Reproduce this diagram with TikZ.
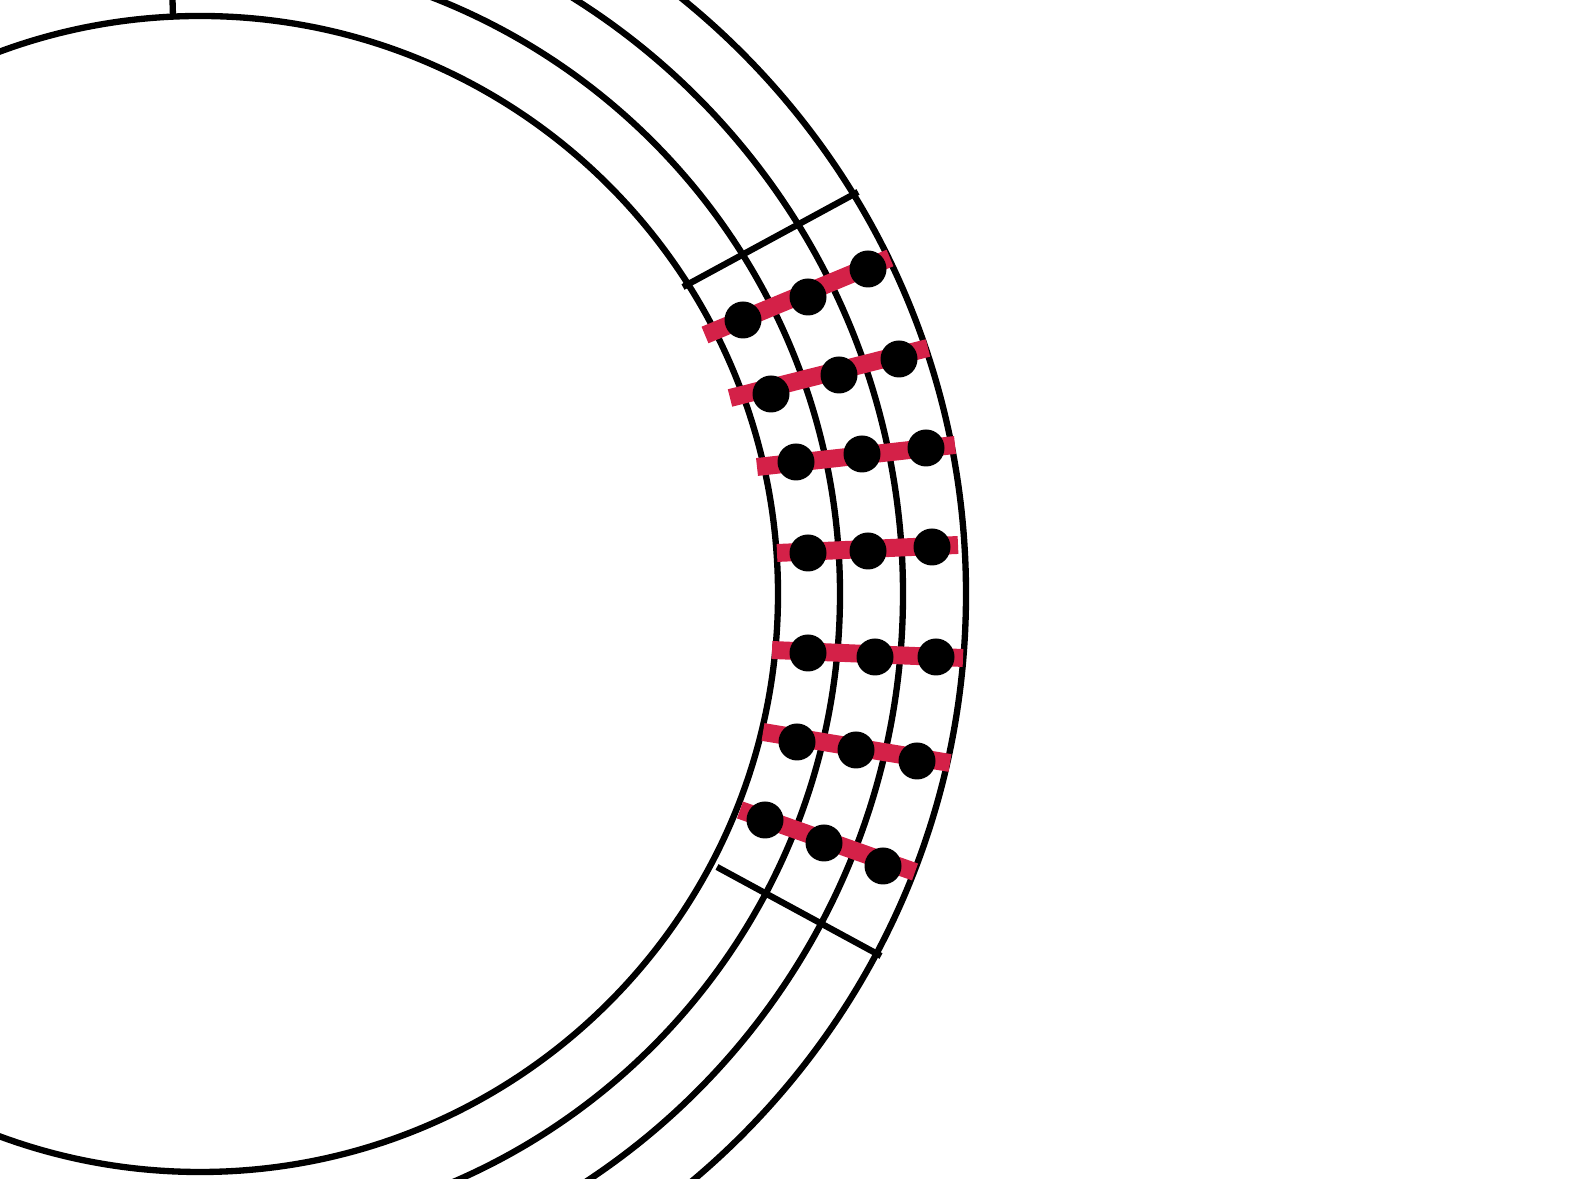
\documentclass[tikz,border=0pt]{standalone}
\usepackage{tikz}
\usepackage{xcolor}
\definecolor{rungred}{RGB}{212,33,72}

\begin{document}
\begin{tikzpicture}
  \tikzset{ring/.style={line width=1.8pt},
    rung/.style={line width=5.1pt,rungred},
    bead/.style={circle,fill=black,inner sep=0pt,minimum size=3.7mm}}
  \useasboundingbox (-2,-5.85) rectangle (13.88,5.94);
  \clip (-2,-5.85) rectangle (13.88,5.94);
  % rings
  \draw[ring] (0,0) circle (5.78);
  \draw[ring] (0,0) circle (6.40);
  \draw[ring] (0,0) circle (7.03);
  \draw[ring] (0,0) circle (7.66);
  \draw[ring] (-0.27,5.78)--(-0.28,6.1);
  % segment borders
  \coordinate (top in) at (4.83,3.07);
  \coordinate (top out) at (6.58,4.02);
  \coordinate (bot in) at (5.17,-2.73);
  \coordinate (bot out) at (6.81,-3.62);
  \draw[ring] (top in)--(top out);
  \draw[ring] (bot in)--(bot out);
  % rungs
  \coordinate (l1) at (5.05,2.59); \coordinate (r1) at (6.90,3.36);
  \coordinate (l2) at (5.30,1.96); \coordinate (r2) at (7.28,2.46);
  \coordinate (l3) at (5.57,1.27); \coordinate (r3) at (7.55,1.49);
  \coordinate (l4) at (5.77,0.41); \coordinate (r4) at (7.58,0.49);
  \coordinate (l5) at (5.72,-0.56); \coordinate (r5) at (7.63,-0.64);
  \coordinate (l6) at (5.63,-1.38); \coordinate (r6) at (7.50,-1.69);
  \coordinate (l7) at (5.40,-2.16); \coordinate (r7) at (7.15,-2.78);
  \draw[rung] (l1)--(r1);
  \draw[rung] (l2)--(r2);
  \draw[rung] (l3)--(r3);
  \draw[rung] (l4)--(r4);
  \draw[rung] (l5)--(r5);
  \draw[rung] (l6)--(r6);
  \draw[rung] (l7)--(r7);
  % beads
  \node[bead] (b1a) at (5.43,2.74) {}; \node[bead] (b1b) at (6.08,2.97) {}; \node[bead] (b1c) at (6.68,3.25) {};
  \node[bead] (b2a) at (5.71,2.00) {}; \node[bead] (b2b) at (6.39,2.19) {}; \node[bead] (b2c) at (6.99,2.35) {};
  \node[bead] (b3a) at (5.96,1.32) {}; \node[bead] (b3b) at (6.62,1.40) {}; \node[bead] (b3c) at (7.26,1.46) {};
  \node[bead] (b4a) at (6.08,0.41) {}; \node[bead] (b4b) at (6.68,0.43) {}; \node[bead] (b4c) at (7.32,0.47) {};
  \node[bead] (b5a) at (6.08,-0.59) {}; \node[bead] (b5b) at (6.75,-0.63) {}; \node[bead] (b5c) at (7.36,-0.63) {};
  \node[bead] (b6a) at (5.97,-1.48) {}; \node[bead] (b6b) at (6.56,-1.56) {}; \node[bead] (b6c) at (7.17,-1.67) {};
  \node[bead] (b7a) at (5.65,-2.26) {}; \node[bead] (b7b) at (6.24,-2.49) {}; \node[bead] (b7c) at (6.83,-2.72) {};
\end{tikzpicture}
\end{document}
